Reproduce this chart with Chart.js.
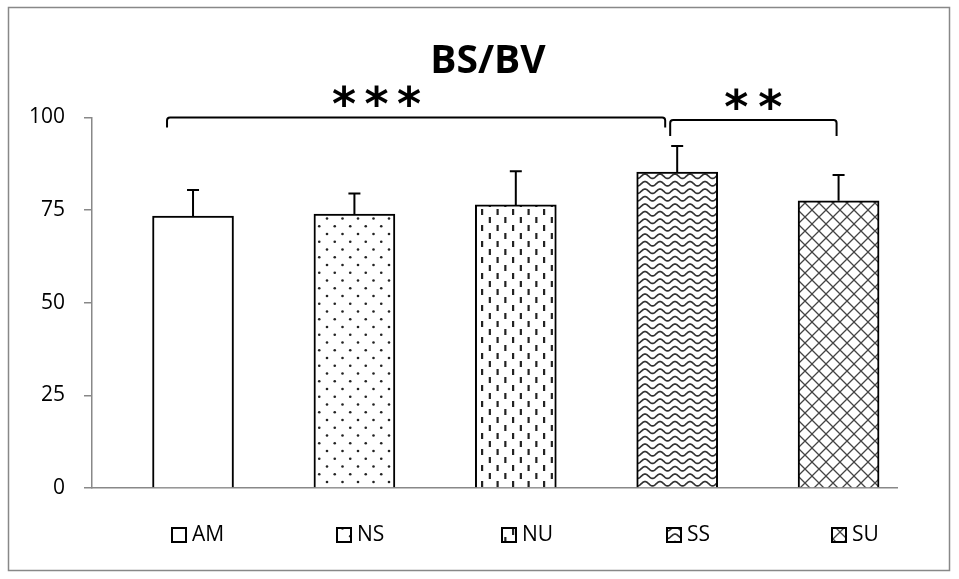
<!DOCTYPE html>
<html>
<head>
<meta charset="utf-8">
<script src="https://cdn.jsdelivr.net/npm/chart.js@4.4.1/dist/chart.umd.min.js"></script>
<style>
  html, body { margin: 0; padding: 0; background: #fff; }
</style>
</head>
<body>
<canvas id="myChart" width="959" height="579"></canvas>
<script>
var categories = ['AM', 'NS', 'NU', 'SS', 'SU'];
var means = [73.4, 73.9, 76.4, 85.3, 77.5];
var errors = [7.0, 5.6, 9.1, 7.0, 7.0];
var yTicks = [0, 25, 50, 75, 100];
var chartTitle = 'BS/BV';
var sigPairs = [[0, 3], [3, 4]];
var sigLabels = ['***', '**'];

var ctx = document.getElementById('myChart').getContext('2d');

// fill patterns, one per group
function makePattern(kind) {
    var c = document.createElement('canvas');
    var g = c.getContext('2d');
    if (kind === 'blank') {
        c.width = 4; c.height = 4;
        g.fillStyle = '#fff'; g.fillRect(0, 0, 4, 4);
    } else if (kind === 'dots') {
        c.width = 31; c.height = 31;
        g.fillStyle = '#fff'; g.fillRect(0, 0, 31, 31);
        g.fillStyle = '#222';
        for (var r = 0; r < 4; r++) {
            for (var k = 0; k < 2; k++) {
                var x = 1.5 + (r % 2) * 7.75 + k * 15.5;
                var y = 1.5 + r * 7.75;
                g.beginPath(); g.arc(x, y, 1.3, 0, Math.PI * 2); g.fill();
            }
        }
    } else if (kind === 'dashes') {
        c.width = 31; c.height = 16;
        g.fillStyle = '#fff'; g.fillRect(0, 0, 31, 16);
        g.fillStyle = '#222';
        [1.5, 17].forEach(function(x) { g.fillRect(x - 1, 1, 2.2, 6); });
        [9.25, 24.75].forEach(function(x) { g.fillRect(x - 1, 9, 2.2, 6); });
    } else if (kind === 'wave') {
        c.width = 15; c.height = 15;
        g.fillStyle = '#fff'; g.fillRect(0, 0, 15, 15);
        g.strokeStyle = '#333'; g.lineWidth = 1.7;
        [3.75, 11.25].forEach(function(y0) {
            g.beginPath();
            for (var x = -1; x <= 16; x += 0.5) {
                var yy = y0 - 2.2 * Math.cos(2 * Math.PI * x / 15);
                if (x === -1) g.moveTo(x, yy); else g.lineTo(x, yy);
            }
            g.stroke();
        });
    } else if (kind === 'cross') {
        c.width = 14; c.height = 14;
        g.fillStyle = '#fff'; g.fillRect(0, 0, 14, 14);
        g.strokeStyle = '#444'; g.lineWidth = 1.3;
        g.beginPath();
        g.moveTo(-2, -2); g.lineTo(16, 16);
        g.moveTo(-2, 16); g.lineTo(16, -2);
        g.stroke();
    }
    return ctx.createPattern(c, 'repeat');
}

var fills = ['blank', 'dots', 'dashes', 'wave', 'cross'].map(makePattern);

var extras = {
    id: 'extras',
    beforeDraw: function(chart) {
        var c = chart.ctx;
        c.save();
        c.fillStyle = '#fff';
        c.fillRect(0, 0, chart.width, chart.height);
        c.strokeStyle = '#888';
        c.lineWidth = 1.5;
        c.strokeRect(8.5, 7.5, 941, 563);
        c.restore();
    },
    afterDatasetsDraw: function(chart) {
        var c = chart.ctx;
        var xs = chart.scales.x, ys = chart.scales.y;
        var area = chart.chartArea;
        var bars = chart.getDatasetMeta(0).data;
        c.save();
        c.strokeStyle = '#000';
        c.lineWidth = 2;

        // error bars (upper only)
        bars.forEach(function(bar, i) {
            var top = ys.getPixelForValue(means[i] + errors[i]);
            c.beginPath();
            c.moveTo(bar.x, bar.y);
            c.lineTo(bar.x, top);
            c.moveTo(bar.x - 6, top);
            c.lineTo(bar.x + 6, top);
            c.stroke();
        });

        // significance brackets
        var geo = [
            { l: -26, r: -12, dy: 0, drop: 10, tx: 22, ty: -22, gap: 32.5 },
            { l: -7, r: -2, dy: 2.5, drop: 16, tx: 0, ty: -21, gap: 34 }
        ];
        sigPairs.forEach(function(p, k) {
            var gm = geo[k];
            var x1 = xs.getPixelForValue(p[0]) + gm.l;
            var x2 = xs.getPixelForValue(p[1]) + gm.r;
            var y = ys.getPixelForValue(100) + gm.dy;
            c.beginPath();
            c.moveTo(x1, y + gm.drop);
            c.arcTo(x1, y, x1 + 4, y, 3);
            c.arcTo(x2, y, x2, y + 4, 3);
            c.lineTo(x2, y + gm.drop);
            c.stroke();

            var cx = k === 0 ? xs.getPixelForValue(1) + gm.tx : (x1 + x2) / 2;
            var cy = y + gm.ty;
            c.fillStyle = '#000';
            c.font = 'bold 46px "DejaVu Sans"';
            c.textAlign = 'center';
            c.textBaseline = 'alphabetic';
            var m = c.measureText('*');
            var mid = (m.actualBoundingBoxAscent - m.actualBoundingBoxDescent) / 2;
            var n = sigLabels[k].length;
            for (var j = 0; j < n; j++) {
                var ax = cx + (j - (n - 1) / 2) * gm.gap;
                c.fillText(sigLabels[k][j], ax, cy + mid);
            }
        });

        // title
        c.fillStyle = '#000';
        c.font = 'bold 39px "Open Sans"';
        c.textAlign = 'center';
        c.textBaseline = 'alphabetic';
        c.fillText(chartTitle, 488, 73);

        // legend
        c.font = '21px "Open Sans"';
        c.textAlign = 'left';
        c.textBaseline = 'middle';
        categories.forEach(function(name, i) {
            var bx = area.left + 79 + i * 165;
            var by = 527;
            c.fillStyle = fills[i];
            c.fillRect(bx, by, 16, 16);
            c.lineWidth = 2;
            c.strokeStyle = '#000';
            c.strokeRect(bx + 1, by + 1, 14, 14);
            c.fillStyle = '#000';
            c.fillText(name, bx + 21, by + 8);
        });
        c.restore();
    }
};

var myChart = new Chart(ctx, {
    type: 'bar',
    data: {
        datasets: [{
            label: chartTitle,
            data: means.map(function(v, i) { return { x: i, y: v }; }),
            backgroundColor: fills,
            borderColor: '#000',
            borderWidth: 2,
            barThickness: 81
        }]
    },
    options: {
        responsive: false,
        animation: false,
        layout: { padding: { left: 0, right: 62, top: 117.5, bottom: 0 } },
        plugins: {
            legend: { display: false },
            title: { display: false },
            tooltip: { enabled: false }
        },
        scales: {
            x: {
                type: 'linear',
                min: -0.626,
                max: 4.362,
                offset: false,
                grid: { display: false },
                ticks: { display: false },
                border: { display: true, color: '#888', width: 1.5 },
                afterFit: function(s) { s.height = 91; }
            },
            y: {
                min: 0,
                max: 100,
                afterBuildTicks: function(s) {
                    s.ticks = yTicks.map(function(v) { return { value: v }; });
                },
                grid: {
                    drawOnChartArea: false,
                    drawTicks: true,
                    tickLength: 8,
                    color: '#888',
                    lineWidth: 1.5
                },
                border: { display: true, color: '#888', width: 1.5 },
                ticks: {
                    color: '#000',
                    padding: 19,
                    font: { family: 'Open Sans', size: 21 }
                },
                afterFit: function(s) { s.width = 92; }
            }
        }
    },
    plugins: [extras]
});
</script>
</body>
</html>
